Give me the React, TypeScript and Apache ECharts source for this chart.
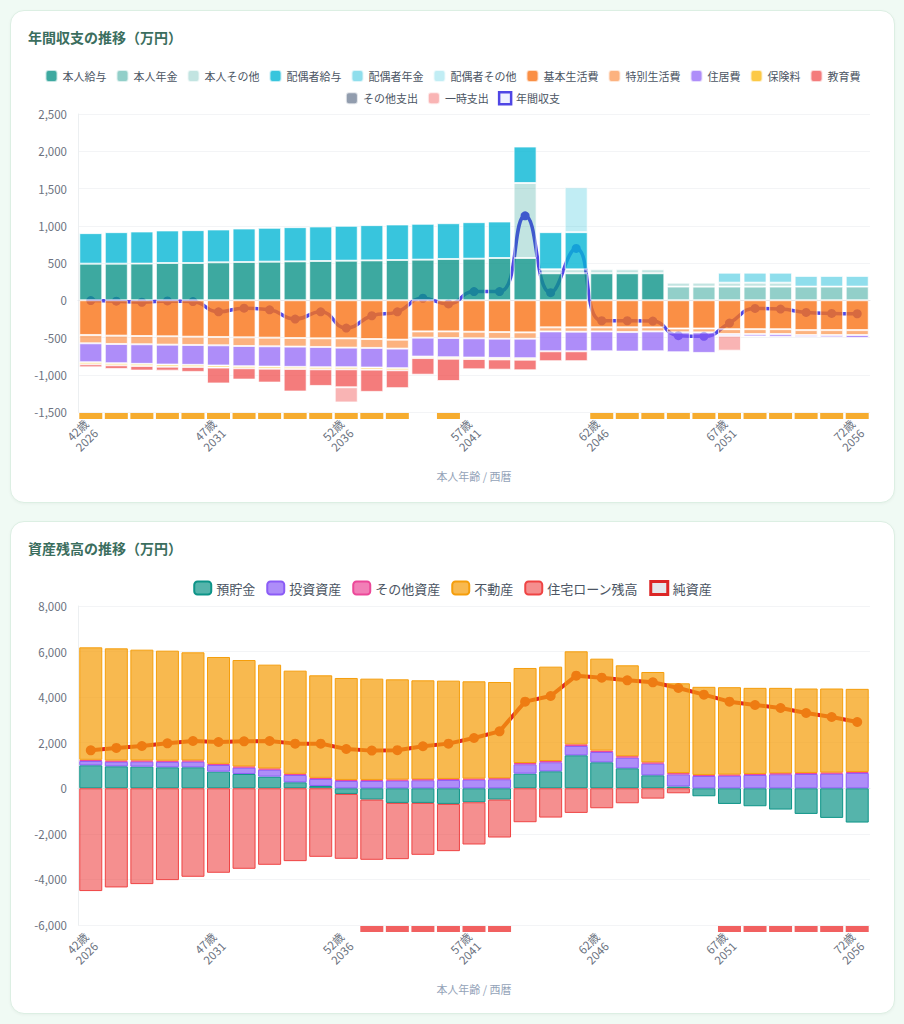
import React, { useEffect, useRef } from "react";
import * as echarts from "echarts";

const FONT = "'Noto Sans CJK JP', 'Noto Sans', sans-serif";

// ---- categories ----
const ages = [42, 43, 44, 45, 46, 47, 48, 49, 50, 51, 52, 53, 54, 55, 56, 57, 58, 59, 60, 61, 62, 63, 64, 65, 66, 67, 68, 69, 70, 71, 72];
const years = [2026, 2027, 2028, 2029, 2030, 2031, 2032, 2033, 2034, 2035, 2036, 2037, 2038, 2039, 2040, 2041, 2042, 2043, 2044, 2045, 2046, 2047, 2048, 2049, 2050, 2051, 2052, 2053, 2054, 2055, 2056];

// ---- 年間収支 (万円) ----
const selfSalary = [491, 491, 492, 500, 500, 509, 513, 518, 522, 527, 531, 535, 540, 545, 554, 558, 567, 567, 362, 362, 362, 362, 362, 0, 0, 0, 0, 0, 0, 0, 0];
const selfPension = [0, 0, 0, 0, 0, 0, 0, 0, 0, 0, 0, 0, 0, 0, 0, 0, 0, 0, 0, 0, 0, 0, 0, 183, 183, 183, 183, 183, 183, 183, 183];
const selfOther = [0, 0, 0, 0, 0, 0, 0, 0, 0, 0, 0, 0, 0, 0, 0, 0, 0, 1007, 53, 53, 53, 53, 53, 53, 53, 53, 53, 53, 0, 0, 0];
const spouseSalary = [410, 423, 431, 437, 441, 441, 450, 454, 459, 463, 468, 473, 477, 481, 480, 490, 490, 489, 499, 499, 0, 0, 0, 0, 0, 0, 0, 0, 0, 0, 0];
const spousePension = [0, 0, 0, 0, 0, 0, 0, 0, 0, 0, 0, 0, 0, 0, 0, 0, 0, 0, 0, 0, 0, 0, 0, 0, 0, 134, 134, 134, 144, 144, 144];
const spouseOther = [0, 0, 0, 0, 0, 0, 0, 0, 0, 0, 0, 0, 0, 0, 0, 0, 0, 0, 0, 602, 0, 0, 0, 0, 0, 0, 0, 0, 0, 0, 0];
const basicLiving = [-466, -475, -480, -484, -489, -493, -498, -502, -507, -511, -511, -520, -529, -418, -418, -423, -427, -431, -364, -364, -364, -364, -364, -379, -379, -388, -388, -388, -401, -401, -401];
const specialLiving = [-112, -112, -111, -112, -111, -112, -116, -116, -115, -116, -125, -120, -120, -84, -89, -88, -89, -85, -54, -58, -54, -63, -54, -52, -52, -65, -65, -65, -66, -66, -66];
const housing = [-254, -258, -263, -267, -267, -271, -271, -272, -272, -272, -263, -263, -263, -254, -258, -258, -258, -262, -267, -263, -267, -262, -267, -267, -276, -23, -32, -36, -27, -31, -40];
const insurance = [-28, -28, -28, -28, -28, -28, -28, -28, -28, -28, -28, -28, -28, -20, -20, -20, -20, -20, 0, 0, 0, 0, 0, 0, 0, 0, 0, 0, 0, 0, 0];
const education = [-40, -49, -62, -54, -67, -213, -152, -187, -303, -223, -241, -299, -240, -223, -299, -138, -138, -142, -133, -133, 0, 0, 0, 0, 0, 0, 0, 0, 0, 0, 0];
const otherExpense = [0, 0, 0, 0, 0, 0, 0, 0, 0, 0, 0, 0, 0, 0, 0, 0, 0, 0, 0, 0, 0, 0, 0, 0, 0, 0, 0, 0, 0, 0, 0];
const oneTimeExpense = [0, 0, 0, 0, 0, 0, 0, 0, 0, 0, -204, 0, 0, 0, 0, 0, 0, 0, 0, 0, 0, 0, 0, 0, 0, -201, 0, 0, 0, 0, 0];
const annualBalance = [-4, -13, -27, -9, -18, -155, -106, -128, -253, -155, -373, -208, -155, 27, -49, 116, 116, 1133, 102, 696, -275, -275, -280, -475, -484, -306, -110, -119, -163, -177, -181];

// ---- 資産残高 (万円) ----
const deposits = [1009, 965, 950, 921, 921, 731, 629, 512, 263, 102, -248, -496, -642, -642, -686, -613, -496, 643, 746, 1448, 1141, 878, 570, 80, -350, -686, -788, -934, -1124, -1299, -1504];
const investments = [190, 200, 220, 240, 250, 293, 278, 307, 322, 307, 322, 322, 336, 351, 366, 380, 395, 410, 395, 410, 453, 468, 512, 530, 541, 556, 585, 614, 629, 644, 673];
const otherAssets = [50, 50, 50, 50, 50, 50, 50, 50, 50, 50, 45, 45, 45, 45, 45, 45, 45, 55, 55, 70, 60, 60, 55, 55, 45, 45, 45, 45, 45, 45, 45];
const realEstate = [4937, 4927, 4864, 4829, 4746, 4688, 4673, 4557, 4528, 4499, 4474, 4445, 4401, 4342, 4313, 4270, 4225, 4172, 4142, 4083, 4035, 3991, 3967, 3942, 3866, 3836, 3778, 3749, 3705, 3690, 3646];
const mortgage = [-4511, -4351, -4205, -4030, -3884, -3708, -3533, -3358, -3197, -3008, -2847, -2643, -2468, -2278, -2073, -1854, -1665, -1489, -1285, -1080, -876, -657, -453, -219, 0, 0, 0, 0, 0, 0, 0];
const netAssets = [1667, 1770, 1857, 1974, 2077, 2033, 2062, 2077, 1960, 1960, 1726, 1653, 1672, 1843, 1960, 2208, 2500, 3802, 4051, 4943, 4856, 4738, 4651, 4402, 4110, 3802, 3656, 3525, 3305, 3130, 2910];
const depositAlert = [0, 0, 0, 0, 0, 0, 0, 0, 0, 0, 0, 1, 1, 1, 1, 1, 1, 0, 0, 0, 0, 0, 0, 0, 0, 1, 1, 1, 1, 1, 1];

// ---- axis ticks ----
const cfTicks = { min: -1500, max: 2500, interval: 500 };
const assetTicks = { min: -6000, max: 8000, interval: 2000 };

// ---- legends ----
const cfLegendRow1 = ["本人給与", "本人年金", "本人その他", "配偶者給与", "配偶者年金", "配偶者その他", "基本生活費", "特別生活費", "住居費", "保険料", "教育費"];
const cfLegendRow2 = ["その他支出", "一時支出"];
const assetLegend = ["預貯金", "投資資産", "その他資産", "不動産", "住宅ローン残高"];

const catLabels = ages.map((a, i) => `${a}歳\n${years[i]}`);

function rgba(hex: string, a: number) {
  const n = parseInt(hex.slice(1), 16);
  return `rgba(${(n >> 16) & 255},${(n >> 8) & 255},${n & 255},${a})`;
}
const nz = (arr: number[]) => arr.map((v) => (v === 0 ? null : v));

function stripeSeries(flags: number[], yMin: number, color: string) {
  return {
    type: "custom",
    silent: true,
    clip: false,
    z: 3,
    renderItem: (params: any, api: any) => {
      if (!api.value(1)) return null;
      const i = api.value(0);
      const p = api.coord([i, yMin]);
      const w = api.size([1, 0])[0];
      return {
        type: "rect",
        shape: { x: p[0] - w * 0.45, y: p[1] + 1, width: w * 0.9, height: 6 },
        style: { fill: color },
      };
    },
    data: flags.map((f, i) => [i, f]),
  };
}

function xAxisCfg() {
  return {
    type: "category",
    data: catLabels,
    axisTick: { show: false },
    axisLine: { lineStyle: { color: "#e5e7eb" } },
    axisLabel: { interval: 4, rotate: 45, fontSize: 11.5, color: "#6b7280", lineHeight: 13, fontFamily: FONT, margin: 14 },
    name: "本人年齢 / 西暦",
    nameLocation: "middle",
    nameGap: 58,
    nameTextStyle: { color: "#94a3b8", fontSize: 11, fontFamily: FONT },
  };
}

function yAxisCfg(t: { min: number; max: number; interval: number }) {
  return {
    type: "value",
    min: t.min,
    max: t.max,
    interval: t.interval,
    axisLine: { show: true, lineStyle: { color: "#eceff1" } },
    axisLabel: { color: "#6b7280", fontSize: 11.5, margin: 11, fontFamily: FONT, formatter: (v: number) => v.toLocaleString("en-US") },
    splitLine: { lineStyle: { color: "#f3f4f6" } },
  };
}

const legendBase = {
  left: "center",
  itemWidth: 12,
  itemHeight: 12,
  itemGap: 9,
  textStyle: { fontSize: 11, color: "#4b5563", fontFamily: FONT },
};

const cfBar = (name: string, data: number[], color: string, op: number) => ({
  name,
  type: "bar",
  stack: "cf",
  z: 2,
  barCategoryGap: "10%",
  data: nz(data),
  itemStyle: { color: rgba(color, op), borderColor: "rgba(255,255,255,0.7)", borderWidth: 1 },
  emphasis: { disabled: true },
});

const TEAL = "#0d9488";
const CYAN = "#06b6d4";
const ORANGE = "#f97316";

const topOption: any = {
  animation: false,
  textStyle: { fontFamily: FONT },
  title: {
    text: "年間収支の推移（万円）",
    left: 12,
    top: 14,
    textStyle: { fontSize: 14, fontWeight: "bold", color: "#3b6e5e", fontFamily: FONT },
  },
  legend: [
    { ...legendBase, top: 53, data: cfLegendRow1 },
    {
      ...legendBase,
      top: 75,
      data: [
        ...cfLegendRow2,
        { name: "年間収支", icon: "rect", itemStyle: { color: "#eef0ff", borderColor: "#4f46e5", borderWidth: 2.5 } },
      ],
    },
  ],
  grid: { left: 67, right: 24, top: 103, height: 298 },
  xAxis: xAxisCfg(),
  yAxis: yAxisCfg(cfTicks),
  series: [
    {
      name: "年間収支",
      type: "line",
      z: 1,
      smooth: true,
      data: annualBalance,
      symbol: "circle",
      symbolSize: 9,
      lineStyle: { width: 3.5, color: "#4f46e5" },
      itemStyle: { color: "#4f46e5" },
      emphasis: { disabled: true },
    },
    cfBar("本人給与", selfSalary, TEAL, 0.8),
    cfBar("本人年金", selfPension, TEAL, 0.45),
    cfBar("本人その他", selfOther, TEAL, 0.25),
    cfBar("配偶者給与", spouseSalary, CYAN, 0.8),
    cfBar("配偶者年金", spousePension, CYAN, 0.45),
    cfBar("配偶者その他", spouseOther, CYAN, 0.25),
    cfBar("基本生活費", basicLiving, ORANGE, 0.8),
    cfBar("特別生活費", specialLiving, ORANGE, 0.55),
    cfBar("住居費", housing, "#8b5cf6", 0.7),
    cfBar("保険料", insurance, "#fbbf24", 0.85),
    cfBar("教育費", education, "#ef4444", 0.7),
    cfBar("その他支出", otherExpense, "#64748b", 0.7),
    cfBar("一時支出", oneTimeExpense, "#ef4444", 0.4),
    stripeSeries(annualBalance.map((v) => (v < 0 ? 1 : 0)), cfTicks.min, rgba("#f59e0b", 0.85)),
  ],
};

const assetBar = (name: string, data: number[], color: string, op: number) => ({
  name,
  type: "bar",
  stack: "asset",
  z: 2,
  barCategoryGap: "10%",
  data: nz(data),
  itemStyle: { color: rgba(color, op), borderColor: color, borderWidth: 1 },
  emphasis: { disabled: true },
});

const bottomOption: any = {
  animation: false,
  textStyle: { fontFamily: FONT },
  title: {
    text: "資産残高の推移（万円）",
    left: 12,
    top: 14,
    textStyle: { fontSize: 14, fontWeight: "bold", color: "#3b6e5e", fontFamily: FONT },
  },
  legend: {
    top: 53,
    left: "center",
    itemWidth: 17,
    itemHeight: 13,
    itemGap: 11,
    textStyle: { fontSize: 13, color: "#4b5563", fontFamily: FONT },
    data: [
      ...assetLegend,
      { name: "純資産", icon: "rect", itemStyle: { color: "#e5e7eb", borderColor: "#dc2626", borderWidth: 3 } },
    ],
  },
  grid: { left: 67, right: 24, top: 84, height: 319 },
  xAxis: xAxisCfg(),
  yAxis: yAxisCfg(assetTicks),
  series: [
    {
      name: "純資産",
      type: "line",
      z: 1,
      data: netAssets,
      symbol: "circle",
      symbolSize: 10,
      lineStyle: { width: 4, color: "#dc2626" },
      itemStyle: { color: "#dc2626" },
      emphasis: { disabled: true },
    },
    assetBar("預貯金", deposits, "#0d9488", 0.7),
    assetBar("投資資産", investments, "#8b5cf6", 0.7),
    assetBar("その他資産", otherAssets, "#ec4899", 0.7),
    assetBar("不動産", realEstate, "#f59e0b", 0.72),
    assetBar("住宅ローン残高", mortgage, "#ef4444", 0.6),
    stripeSeries(depositAlert, assetTicks.min, rgba("#ef4444", 0.85)),
  ],
};

function Chart({ option }: { option: any }) {
  const ref = useRef<HTMLDivElement>(null);
  useEffect(() => {
    if (!ref.current) return;
    const chart = echarts.init(ref.current, undefined, { renderer: "svg" });
    chart.setOption(option);
    return () => chart.dispose();
  }, [option]);
  return <div ref={ref} style={{ width: "100%", height: "100%" }} />;
}

function Card({ option }: { option: any }) {
  return (
    <div
      style={{
        width: 885,
        height: 493,
        background: "#ffffff",
        borderRadius: 14,
        border: "1px solid #dcefe3",
        boxSizing: "border-box",
        overflow: "hidden",
        boxShadow: "0 1px 3px rgba(0,0,0,0.04)",
      }}
    >
      <Chart option={option} />
    </div>
  );
}

export default function App() {
  useEffect(() => {
    document.body.style.margin = "0";
    document.body.style.background = "#f0faf4";
  }, []);
  return (
    <div style={{ width: 904, height: 1024, background: "#f0faf4", padding: "10px 9px 0 10px", boxSizing: "border-box" }}>
      <Card option={topOption} />
      <div style={{ height: 18 }} />
      <Card option={bottomOption} />
    </div>
  );
}
